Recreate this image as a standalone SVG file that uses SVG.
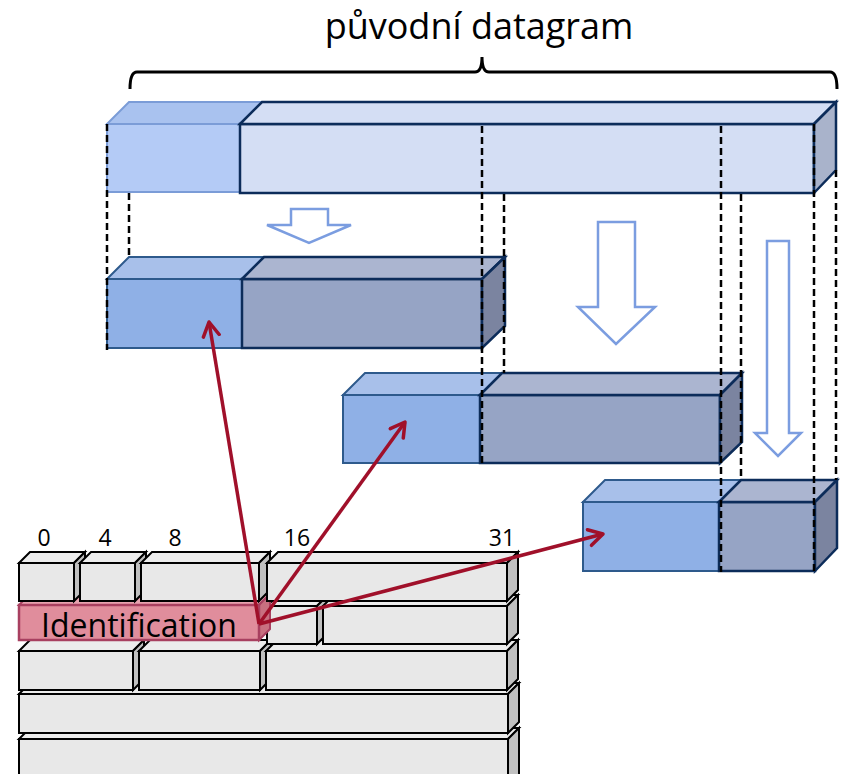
<svg xmlns="http://www.w3.org/2000/svg" width="846" height="774" viewBox="0 0 846 774">
  <style>
    text { font-family: "Open Sans", "Noto Sans", "Liberation Sans", sans-serif; fill: #000; }
    .hdrTop { fill: #b4cbf6; stroke: #7b9cd7; stroke-width: 2; }
    .hdrTopT { fill: #a9c2ef; stroke: #7b9cd7; stroke-width: 2; }
    .datTop { fill: #d4def4; stroke: #0c2c5a; stroke-width: 2.5; }
    .datTopS { fill: #a9b3cb; stroke: #0c2c5a; stroke-width: 2.5; }
    .hdr { fill: #8fb0e6; stroke: #2e5a8c; stroke-width: 2; }
    .hdrT { fill: #a8c0ea; stroke: #2e5a8c; stroke-width: 2; }
    .dat { fill: #96a4c5; stroke: #0c2c5a; stroke-width: 2.5; }
    .datT { fill: #abb5d0; stroke: #0c2c5a; stroke-width: 2.5; }
    .datS { fill: #7b84a0; stroke: #0c2c5a; stroke-width: 2.5; }
    .dash { stroke: #000; stroke-width: 2.5; stroke-dasharray: 7 4; fill: none; }
    .hollow { fill: #fff; stroke: #7b9de0; stroke-width: 2.5; stroke-linejoin: miter; }
    .g { fill: #e8e8e8; stroke: #000; stroke-width: 2; }
    .gt { fill: #ececec; stroke: #000; stroke-width: 2; }
    .gs { fill: #c0c0c0; stroke: #000; stroke-width: 2; }
    .pk { fill: #e08d9c; stroke: #a84060; stroke-width: 2.5; }
    .pkt { fill: #e8a3b0; stroke: #a84060; stroke-width: 2; }
    .pks { fill: #c87080; stroke: #a84060; stroke-width: 2; }
    .num { font-size: 23px; text-anchor: middle; }
    .link { stroke: #a0102a; stroke-width: 3.5; fill: none; marker-end: url(#openArrow); }
  </style>
  <defs>
    <marker id="openArrow" markerUnits="userSpaceOnUse" markerWidth="24" markerHeight="24" refX="16" refY="10" orient="auto">
      <path d="M2,2 L16,10 L2,18" fill="none" stroke="#a0102a" stroke-width="3.5" stroke-linecap="round" stroke-linejoin="round"/>
    </marker>
  </defs>

  <!-- title and brace -->
  <g id="title">
    <text x="479" y="39" font-size="36" text-anchor="middle">původní datagram</text>
  </g>
  <g id="brace">
    <path d="M130,89 Q130,72 137,72 L475,72 Q482,72 482,57 Q482,72 489,72 L830,72 Q837,72 837,89" fill="none" stroke="#000" stroke-width="3"/>
  </g>

  <!-- original datagram: header + data -->
  <g id="original">
    <rect class="hdrTop" x="107" y="124" width="133" height="68"/>
    <polygon class="hdrTopT" points="107,124 129,102 262,102 240,124"/>
    <rect class="datTop" x="240" y="124" width="574" height="69"/>
    <polygon class="datTop" points="240,124 262,102 836,102 814,124"/>
    <polygon class="datTopS" points="814,124 836,102 836,170 814,193"/>
  </g>

  <!-- hollow downward arrows -->
  <g id="moveArrows">
    <polygon class="hollow" points="291,209 328,209 328,225 351,225 309,243 267,225 291,225"/>
    <polygon class="hollow" points="598,222 635,222 635,307 655,307 616,344 578,307 598,307"/>
    <polygon class="hollow" points="767,241 789,241 789,433 801,433 778,456 755,433 767,433"/>
  </g>

  <!-- fragment 1 -->
  <g id="fragment1">
    <rect class="hdr" x="107" y="279" width="135" height="69"/>
    <polygon class="hdrT" points="107,279 129,257 264,257 242,279"/>
    <rect class="dat" x="242" y="279" width="240" height="69"/>
    <polygon class="datT" points="242,279 264,257 505,257 482,279"/>
    <polygon class="datS" points="482,279 505,257 505,326 482,348"/>
  </g>

  <!-- fragment 2 -->
  <g id="fragment2">
    <rect class="hdr" x="343" y="395" width="137" height="68"/>
    <polygon class="hdrT" points="343,395 365,373 502,373 480,395"/>
    <rect class="dat" x="480" y="395" width="240" height="68"/>
    <polygon class="datT" points="480,395 502,373 742,373 720,395"/>
    <polygon class="datS" points="720,395 742,373 742,442 720,463"/>
  </g>

  <!-- fragment 3 -->
  <g id="fragment3">
    <rect class="hdr" x="583" y="502" width="136" height="69"/>
    <polygon class="hdrT" points="583,502 605,480 741,480 719,502"/>
    <rect class="dat" x="719" y="502" width="96" height="69"/>
    <polygon class="datT" points="719,502 741,480 837,480 815,502"/>
    <polygon class="datS" points="815,502 837,480 837,548 815,571"/>
  </g>

  <!-- projection guides -->
  <g id="guides">
    <line class="dash" x1="107" y1="124" x2="107" y2="350"/>
    <line class="dash" x1="129" y1="193" x2="129" y2="257"/>
    <line class="dash" x1="482" y1="126" x2="482" y2="465"/>
    <line class="dash" x1="504" y1="194" x2="504" y2="373"/>
    <line class="dash" x1="721" y1="126" x2="721" y2="572"/>
    <line class="dash" x1="741" y1="194" x2="741" y2="480"/>
    <line class="dash" x1="814" y1="124" x2="814" y2="572"/>
    <line class="dash" x1="836" y1="170" x2="836" y2="480"/>
  </g>

  <!-- IP header rows, drawn back to front -->
  <g id="row5">
    <polygon class="gt" points="19,739 30,728 519,728 508,739"/>
    <polygon class="gs" points="508,739 519,728 519,775 508,786"/>
    <rect class="g" x="19" y="739" width="489" height="46"/>
  </g>
  <g id="row4">
    <polygon class="gt" points="19,694 30,683 519,683 508,694"/>
    <polygon class="gs" points="508,694 519,683 519,722 508,733"/>
    <rect class="g" x="19" y="694" width="489" height="39"/>
  </g>
  <g id="row3">
    <polygon class="gt" points="19,651 30,640 144,640 133,651"/>
    <polygon class="gs" points="133,651 144,640 144,679 133,690"/>
    <rect class="g" x="19" y="651" width="114" height="39"/>
    <polygon class="gt" points="139,651 150,640 271,640 260,651"/>
    <polygon class="gs" points="260,651 271,640 271,679 260,690"/>
    <rect class="g" x="139" y="651" width="121" height="39"/>
    <polygon class="gt" points="266,651 277,640 518,640 507,651"/>
    <polygon class="gs" points="507,651 518,640 518,679 507,690"/>
    <rect class="g" x="266" y="651" width="241" height="39"/>
  </g>
  <g id="row2">
    <polygon class="gt" points="267,606 278,595 328,595 317,606"/>
    <polygon class="gs" points="317,606 328,595 328,633 317,644"/>
    <rect class="g" x="267" y="606" width="50" height="38"/>
    <polygon class="gt" points="323,606 334,595 518,595 507,606"/>
    <polygon class="gs" points="507,606 518,595 518,633 507,644"/>
    <rect class="g" x="323" y="606" width="184" height="38"/>
  </g>
  <g id="identification">
    <polygon class="pkt" points="19,605 30,594 270,594 259,605"/>
    <polygon class="pks" points="259,605 270,594 270,629 259,640"/>
    <rect class="pk" x="19" y="605" width="240" height="35"/>
    <text x="139" y="637" font-size="32" text-anchor="middle">Identification</text>
  </g>
  <g id="row1">
    <polygon class="gt" points="19,563 30,552 85,552 74,563"/>
    <polygon class="gs" points="74,563 85,552 85,590 74,601"/>
    <rect class="g" x="19" y="563" width="55" height="38"/>
    <polygon class="gt" points="80,563 91,552 146,552 135,563"/>
    <polygon class="gs" points="135,563 146,552 146,590 135,601"/>
    <rect class="g" x="80" y="563" width="55" height="38"/>
    <polygon class="gt" points="141,563 152,552 270,552 259,563"/>
    <polygon class="gs" points="259,563 270,552 270,590 259,601"/>
    <rect class="g" x="141" y="563" width="118" height="38"/>
    <polygon class="gt" points="267,563 278,552 518,552 507,563"/>
    <polygon class="gs" points="507,563 518,552 518,590 507,601"/>
    <rect class="g" x="267" y="563" width="240" height="38"/>
  </g>
  <g id="bitLabels">
    <text class="num" x="44" y="546">0</text>
    <text class="num" x="105" y="546">4</text>
    <text class="num" x="175" y="546">8</text>
    <text class="num" x="297" y="546">16</text>
    <text class="num" x="502" y="546">31</text>
  </g>

  <!-- connectors from Identification to each fragment header -->
  <g id="connectors">
    <line class="link" x1="259" y1="624" x2="209" y2="322"/>
    <line class="link" x1="259" y1="624" x2="405" y2="422"/>
    <line class="link" x1="259" y1="624" x2="603" y2="534"/>
  </g>
</svg>
